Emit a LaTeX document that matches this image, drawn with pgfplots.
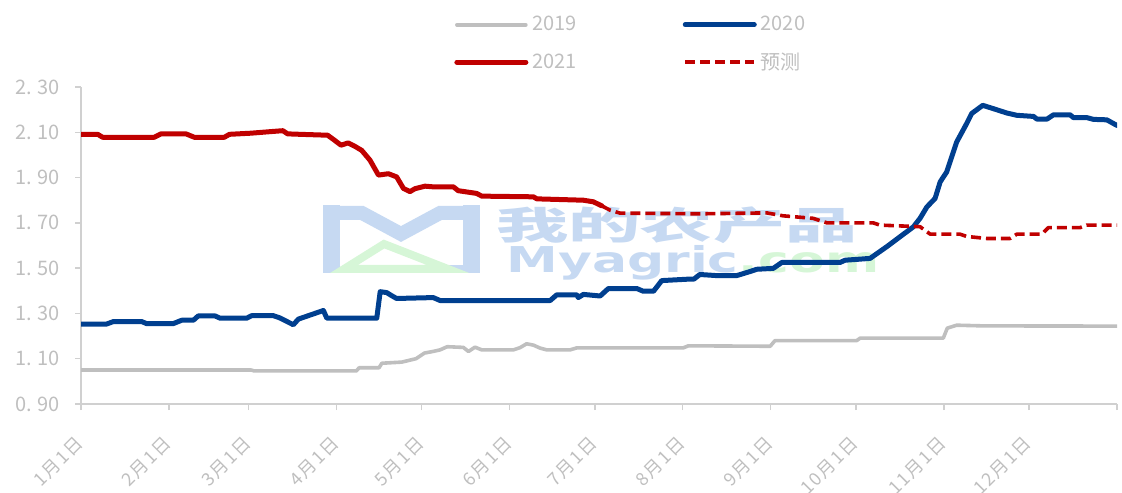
\documentclass[border=0pt]{standalone}
\usepackage{fontspec}
\setmainfont{Noto Sans CJK SC}
\newfontfamily\wmfont{DejaVu Sans}
\newfontfamily\tickfont[LetterSpace=8]{Noto Sans CJK SC}
\usepackage{pgfplots}
\pgfplotsset{compat=1.18}

\definecolor{c19}{HTML}{BFBFBF}
\definecolor{c20}{HTML}{003F8F}
\definecolor{c21}{HTML}{C00000}
\definecolor{txt}{HTML}{BFBFBF}
\definecolor{axc}{HTML}{D0D0D0}
\definecolor{wmb}{HTML}{C6D9F2}
\definecolor{wmg}{HTML}{D6F6D7}

\begin{document}
\begin{tikzpicture}
\path[use as bounding box] (0,0) rectangle (561pt,246pt);

% watermark
\fill[wmb] (161.5pt,109.5pt) rectangle (170pt,143.5pt);
\fill[wmb] (231.5pt,109.5pt) rectangle (240pt,143.5pt);
\draw[wmb, line width=7pt, line join=miter] (162pt,139.5pt) -- (181pt,139.5pt) -- (200.5pt,129pt) -- (220pt,139.5pt) -- (239pt,139.5pt);
\fill[wmb] (205pt,109.5pt) rectangle (240pt,113.5pt);
\draw[wmg, line width=4pt, line join=miter] (172pt,111.5pt) -- (192pt,124pt) -- (224pt,111.5pt) -- cycle;
\node[text=wmb, inner sep=0pt, xscale=1.9, font=\bfseries\fontsize{19}{19}\selectfont] at (338.5pt,133.5pt) {我的农产品};
\node[anchor=base west, inner sep=0pt, xscale=1.46, font=\wmfont\bfseries\fontsize{17.8}{17.8}\selectfont] at (253pt,109.5pt) {\textcolor{wmb}{Myagric}\textcolor{wmg}{.com}};

\begin{axis}[
  at={(40.5pt,44pt)}, anchor=south west,
  scale only axis, width=518pt, height=158.5pt,
  xmin=0, xmax=365, ymin=0.9, ymax=2.3,
  axis x line*=bottom, axis y line*=left,
  axis line style={draw=axc, line width=0.75pt, -},
  tick align=outside, major tick length=3pt,
  tick style={draw=axc, line width=0.75pt},
  ytick={0.9,1.1,1.3,1.5,1.7,1.9,2.1,2.3},
  yticklabels={0. 90,1. 10,1. 30,1. 50,1. 70,1. 90,2. 10,2. 30},
  yticklabel style={font=\fontsize{10}{12}\selectfont, text=txt, xshift=-4pt},
  xtick={0,31,59,90,120,151,181,212,243,273,304,334,365},
  xticklabels={1月1日,2月1日,3月1日,4月1日,5月1日,6月1日,7月1日,8月1日,9月1日,10月1日,11月1日,12月1日,},
  xticklabel style={font=\tickfont\fontsize{9}{11}\selectfont, text=txt, xshift=2pt, yshift=-12.5pt, rotate=45, anchor=east},
  legend columns=2,
  legend style={at={(0.36,1.238)}, anchor=north west, draw=none, fill=none,
    inner sep=0pt, font=\fontsize{10}{12}\selectfont, text=txt,
    nodes={inner sep=2pt}, row sep=5.5pt,
    /tikz/every even column/.append style={column sep=51pt}},
  legend cell align=left,
  legend image code/.code={\draw[#1] (0pt,0pt) -- (34.5pt,0pt);},
  line join=round,
]

% 2019
\addplot[c19, line width=1.8pt, line cap=round] coordinates {
(0,1.05) (60,1.05) (61,1.046) (97,1.046) (98,1.06) (105,1.06) (106,1.08)
(113,1.085) (118,1.10) (121,1.125) (124,1.132) (126.5,1.139) (129,1.153)
(134.7,1.15) (136.5,1.132) (138.8,1.151) (141.2,1.139) (152.3,1.139)
(154.7,1.149) (157,1.166) (159.4,1.16) (161.7,1.147) (164.1,1.139)
(172.3,1.139) (174.7,1.148) (212.2,1.148) (214,1.157) (242.8,1.155)
(244.5,1.18) (273.3,1.18) (274.5,1.191) (303.8,1.191) (305.2,1.235)
(308.5,1.248) (317.9,1.245) (365,1.244)
};
\addlegendentry{2019}

% 2020
\addplot[c20, line width=2.5pt, line cap=round] coordinates {
(0,1.253) (9,1.253) (11.4,1.264) (21.4,1.264) (23.1,1.255) (32.5,1.255)
(35.5,1.27) (39.6,1.27) (41.3,1.289) (47.2,1.289) (49,1.279) (58.4,1.279)
(60.1,1.29) (67.8,1.29) (70.1,1.28) (74.8,1.25) (76.6,1.275) (85.4,1.313)
(86.6,1.279) (104.2,1.279) (105.4,1.396) (107.7,1.392) (109.5,1.378)
(111.2,1.366) (124.1,1.37) (126.5,1.357) (165.3,1.357) (167.6,1.382)
(174.7,1.382) (175.2,1.37) (177,1.384) (182.9,1.377) (185.8,1.41)
(195.8,1.41) (198.1,1.398) (201.7,1.398) (204.6,1.445) (213.4,1.451)
(216,1.452) (218,1.472) (224,1.467) (231,1.467) (235.7,1.485)
(238.1,1.495) (243.9,1.499) (246.9,1.525) (267.4,1.525) (269.2,1.535)
(278,1.543) (283.9,1.595) (293.3,1.683) (295.6,1.72) (298,1.77)
(300.9,1.808) (302.7,1.881) (305,1.925) (308.5,2.057) (312,2.138)
(313.8,2.183) (317.7,2.219) (321.5,2.204) (326.2,2.185) (329.7,2.175)
(335.6,2.17) (336.8,2.158) (340.3,2.158) (342.6,2.177) (348.5,2.177)
(349.6,2.165) (354.3,2.165) (356.7,2.157) (361.4,2.155) (365,2.13)
};
\addlegendentry{2020}

% 2021
\addplot[c21, line width=2.5pt, line cap=round] coordinates {
(0,2.091) (5.9,2.091) (7.6,2.078) (25.8,2.078) (28.2,2.093) (37,2.093)
(39.9,2.078) (50.5,2.078) (52.3,2.091) (59.9,2.096) (66.9,2.103)
(71.1,2.107) (72.8,2.093) (77.2,2.091) (86.9,2.087) (89.3,2.065)
(91.6,2.043) (94.1,2.053) (96.5,2.038) (98.9,2.02) (101.8,1.977)
(104.8,1.911) (108.3,1.917) (111.2,1.903) (113.6,1.852) (115.9,1.838)
(117.7,1.851) (121.2,1.862) (124.1,1.859) (131.2,1.859) (132.9,1.842)
(139.4,1.83) (141.2,1.818) (159.4,1.815) (160.6,1.806) (177,1.80)
(180.5,1.793) (183.5,1.775)
};
\addlegendentry{2021}

% forecast
\addplot[c21, line width=1.8pt, dash pattern=on 5pt off 2.5pt] coordinates {
(183.5,1.775) (186.4,1.756) (189.9,1.743) (218.1,1.74) (241.6,1.744)
(247.4,1.731) (257.9,1.72) (262.8,1.70) (279.1,1.70) (281.5,1.69)
(295.6,1.683) (299.2,1.65) (309.7,1.65) (312,1.64) (319.1,1.631)
(327.3,1.631) (329.7,1.65) (338.5,1.65) (340.8,1.679) (352,1.679)
(354.3,1.69) (365,1.69)
};
\addlegendentry{预测}

\end{axis}
\end{tikzpicture}
\end{document}
